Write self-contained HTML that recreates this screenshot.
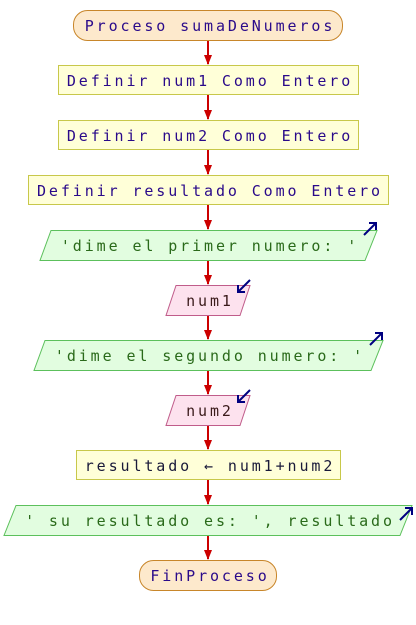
<!DOCTYPE html>
<html><head><meta charset="utf-8"><style>
html,body{margin:0;padding:0;background:#fff;}
svg{display:block}
text{font-family:"DejaVu Sans Mono","Liberation Mono",monospace;font-size:15px;letter-spacing:2.9px;}
</style></head><body>
<svg width="416" height="625" viewBox="0 0 416 625" xmlns="http://www.w3.org/2000/svg">
<defs>
<marker id="ah" markerWidth="10" markerHeight="8" refX="9" refY="4" orient="auto" markerUnits="userSpaceOnUse"><path d="M0,0 L10,4 L0,8z" fill="#cc0000"/></marker>
</defs>
<g stroke="#cc0000" stroke-width="2">
<line x1="208" y1="40" x2="208" y2="64" marker-end="url(#ah)"/>
<line x1="208" y1="95" x2="208" y2="119" marker-end="url(#ah)"/>
<line x1="208" y1="150" x2="208" y2="174" marker-end="url(#ah)"/>
<line x1="208" y1="205" x2="208" y2="229" marker-end="url(#ah)"/>
<line x1="208" y1="260" x2="208" y2="284" marker-end="url(#ah)"/>
<line x1="208" y1="315" x2="208" y2="339" marker-end="url(#ah)"/>
<line x1="208" y1="370" x2="208" y2="394" marker-end="url(#ah)"/>
<line x1="208" y1="425" x2="208" y2="449" marker-end="url(#ah)"/>
<line x1="208" y1="480" x2="208" y2="504" marker-end="url(#ah)"/>
<line x1="208" y1="535" x2="208" y2="559" marker-end="url(#ah)"/>
</g>
<rect x="73.5" y="10.5" width="269" height="30" rx="14" fill="#fde9cc" stroke="#c8862a"/>
<rect x="58.5" y="65.5" width="300" height="29" fill="#ffffd8" stroke="#c8c84a"/>
<rect x="58.5" y="120.5" width="300" height="29" fill="#ffffd8" stroke="#c8c84a"/>
<rect x="28.5" y="175.5" width="360" height="29" fill="#ffffd8" stroke="#c8c84a"/>
<polygon points="51,230.5 377,230.5 365,260.5 40,260.5" fill="#e2fde0" stroke="#5cc05c"/>
<polygon points="176,285.5 250,285.5 240,315.5 166,315.5" fill="#fde2ee" stroke="#c05c8a"/>
<polygon points="45,340.5 383,340.5 371,370.5 34,370.5" fill="#e2fde0" stroke="#5cc05c"/>
<polygon points="176,395.5 250,395.5 240,425.5 166,425.5" fill="#fde2ee" stroke="#c05c8a"/>
<rect x="76.5" y="450.5" width="264" height="29" fill="#ffffd8" stroke="#c8c84a"/>
<polygon points="16,505.5 412,505.5 400,535.5 4,535.5" fill="#e2fde0" stroke="#5cc05c"/>
<rect x="139.5" y="560.5" width="137" height="30" rx="14" fill="#fde9cc" stroke="#c8862a"/>
<g stroke="#000080" stroke-width="2" fill="none">
<path d="M364,235 L376,223 M369,223 L376,223 L376,230"/>
<path d="M250,280 L238,292 M238,285 L238,292 L245,292"/>
<path d="M370,345 L382,333 M375,333 L382,333 L382,340"/>
<path d="M250,390 L238,402 M238,395 L238,402 L245,402"/>
<path d="M400,520 L412,508 M405,508 L412,508 L412,515"/>
</g>
<g text-anchor="middle">
<text x="210" y="31" fill="#2a0a8a">Proceso sumaDeNumeros</text>
<text x="210" y="86" fill="#2a0a8a">Definir num1 Como Entero</text>
<text x="210" y="141" fill="#2a0a8a">Definir num2 Como Entero</text>
<text x="210" y="196" fill="#2a0a8a">Definir resultado Como Entero</text>
<text x="210" y="251" fill="#2a6a1a">'dime el primer numero: '</text>
<text x="210" y="306" fill="#3a1a1a">num1</text>
<text x="210" y="361" fill="#2a6a1a">'dime el segundo numero: '</text>
<text x="210" y="416" fill="#3a1a1a">num2</text>
<text x="210" y="471" fill="#1a1a3a">resultado ← num1+num2</text>
<text x="210" y="526" fill="#2a6a1a">' su resultado es: ', resultado</text>
<text x="210" y="581" fill="#2a0a8a">FinProceso</text>
</g>
</svg>
</body></html>
